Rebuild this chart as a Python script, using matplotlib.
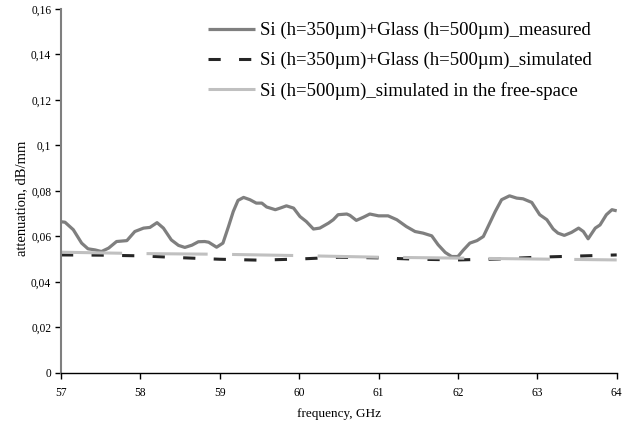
import matplotlib
matplotlib.use("Agg")
import matplotlib.pyplot as plt
from matplotlib.ticker import FuncFormatter, MultipleLocator

# measured curve
freq_meas = [57.00, 57.05, 57.155, 57.26, 57.34, 57.43, 57.51, 57.60, 57.70, 57.83,
             57.93, 58.04, 58.12, 58.21, 58.29, 58.39, 58.48, 58.56, 58.65, 58.73,
             58.81, 58.86, 58.96, 59.04, 59.11, 59.17, 59.23, 59.30, 59.38, 59.46,
             59.53, 59.59, 59.70, 59.76, 59.84, 59.93, 60.01, 60.09, 60.18, 60.26,
             60.37, 60.43, 60.49, 60.60, 60.64, 60.72, 60.81, 60.89, 61.00, 61.12,
             61.23, 61.35, 61.46, 61.56, 61.67, 61.75, 61.84, 61.92, 62.00, 62.07,
             62.15, 62.24, 62.32, 62.38, 62.47, 62.55, 62.65, 62.74, 62.82, 62.93,
             63.03, 63.12, 63.20, 63.26, 63.34, 63.43, 63.52, 63.58, 63.64, 63.73,
             63.79, 63.87, 63.94, 64.00]
att_meas = [0.0664, 0.0662, 0.0629, 0.0570, 0.0545, 0.0540, 0.0533, 0.0548, 0.0577, 0.0581,
            0.0621, 0.0636, 0.0639, 0.0660, 0.0636, 0.0584, 0.0560, 0.0551, 0.0561, 0.0576,
            0.0577, 0.0574, 0.0552, 0.0570, 0.0643, 0.0709, 0.0758, 0.0771, 0.0761, 0.0746,
            0.0746, 0.0729, 0.0717, 0.0724, 0.0734, 0.0724, 0.0687, 0.0665, 0.0632, 0.0636,
            0.0658, 0.0673, 0.0695, 0.0698, 0.0692, 0.0670, 0.0684, 0.0698, 0.0690, 0.0690,
            0.0673, 0.0643, 0.0621, 0.0614, 0.0602, 0.0563, 0.0529, 0.0511, 0.0511, 0.0540,
            0.0570, 0.0581, 0.0599, 0.0643, 0.0709, 0.0761, 0.0778, 0.0768, 0.0765, 0.0749,
            0.0695, 0.0673, 0.0632, 0.0614, 0.0604, 0.0617, 0.0636, 0.0621, 0.0589, 0.0636,
            0.0650, 0.0695, 0.0717, 0.0712]

freq_sim = [57.0, 57.5, 58.0, 58.5, 59.0, 59.5, 60.0, 60.5, 61.0, 61.5, 62.0, 62.5, 63.0, 63.5, 64.0]
att_sim = [0.0518, 0.0517, 0.0514, 0.0506, 0.0499, 0.0495, 0.0500, 0.0508, 0.0505, 0.0499,
           0.0496, 0.0500, 0.0508, 0.0513, 0.0518]

freq_free = [57.0, 58.0, 59.0, 60.0, 61.0, 62.0, 63.0, 64.0]
att_free = [0.0530, 0.0524, 0.0521, 0.0515, 0.0508, 0.0504, 0.0500, 0.0496]

labels = ["Si (h=350µm)+Glass (h=500µm)_measured",
          "Si (h=350µm)+Glass (h=500µm)_simulated",
          "Si (h=500µm)_simulated in the free-space"]

plt.rcParams['font.family'] = ['Liberation Serif', 'DejaVu Serif']

fig = plt.figure(figsize=(6.32, 4.23), dpi=100)
ax = fig.add_axes([0.0965, 0.119, 0.8793, 0.8597])

meas_line, = ax.plot(freq_meas, att_meas, color='#7f7f7f', lw=2.3, solid_capstyle='butt')
sim_line, = ax.plot(freq_sim, att_sim, color='#262626', lw=2.2, dashes=(4, 6))
free_line, = ax.plot(freq_free, att_free, color='#c0c0c0', lw=2.2, dashes=(20, 8))

ax.set_xlim(57, 64)
ax.set_ylim(0, 0.16)
ax.xaxis.set_major_locator(MultipleLocator(1))
ax.yaxis.set_major_locator(MultipleLocator(0.02))
ax.yaxis.set_major_formatter(FuncFormatter(lambda v, p: f"{round(v, 4):g}".replace('.', ',')))

for side in ['top', 'right']:
    ax.spines[side].set_visible(False)
ax.spines['left'].set_color('#7f7f7f')
ax.spines['left'].set_linewidth(1.5)
ax.spines['bottom'].set_color('black')
ax.spines['bottom'].set_linewidth(1.0)
ax.tick_params(axis='both', direction='out', length=4, width=1, labelsize=8.3)
ax.tick_params(axis='y', color='black', pad=3)
ax.tick_params(axis='x', pad=6)

ax.set_xlabel("frequency, GHz", fontsize=9.5, labelpad=7)
ax.set_ylabel("attenuation, dB/mm", fontsize=10.5, va='center')
ax.yaxis.set_label_coords(-0.070, 0.48)

ax.legend((meas_line, sim_line, free_line), labels, frameon=False, fontsize=13.5,
          loc='upper left', bbox_to_anchor=(0.329, 0.948), bbox_transform=fig.transFigure,
          borderpad=0, borderaxespad=0, handlelength=2.5, handletextpad=0.27,
          labelspacing=0.68)

fig.savefig('out.png', dpi=100)
